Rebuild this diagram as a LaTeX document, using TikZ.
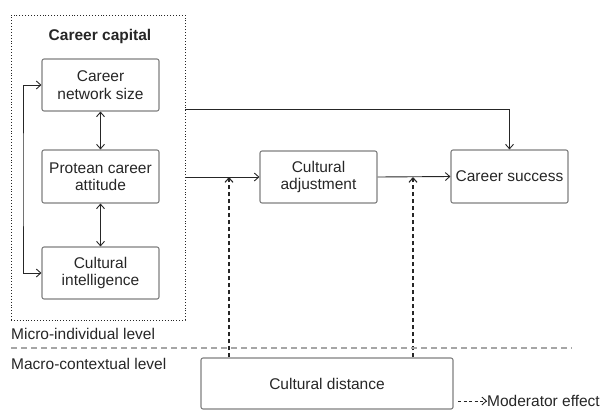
\documentclass[tikz,border=0pt]{standalone}
\usepackage{fontspec}
\setmainfont{Liberation Sans}
\usetikzlibrary{arrows.meta}
\begin{document}
\begin{tikzpicture}[x=1pt,y=-1pt,
  every node/.style={font=\fontsize{15.5}{17.5}\selectfont, text=black!85},
  box/.style={draw=black!50, line width=1.1pt, rounded corners=2pt, minimum width=117pt, minimum height=52pt, align=center, inner sep=1pt},
  conn/.style={draw=black!85, line width=0.9pt, -{Straight Barb[length=4.5pt,width=8pt]}},
  dconn/.style={conn, dashed, dash pattern=on 4pt off 3pt, line width=1.1pt},
  biconn/.style={draw=black!85, line width=0.9pt, {Straight Barb[length=4.5pt,width=8pt]}-{Straight Barb[length=4.5pt,width=8pt]}}
]
\useasboundingbox (0,0) rectangle (604,410);
\node[draw=black!85, dotted, line width=0.9pt, minimum width=174pt, minimum height=305pt, inner sep=0pt] (cap) at (98,167.5) {};
\node[font=\fontsize{15.5}{17.5}\selectfont\bfseries] (title) at (100,36) {Career capital};
\node[box] (net) at (100.5,85) {Career\\network size};
\node[box, minimum height=53pt] (pro) at (100.5,176.5) {Protean career\\attitude};
\node[box] (ci) at (100.5,273) {Cultural\\intelligence};
\node[box] (adj) at (318.5,177) {Cultural\\adjustment};
\node[box, minimum height=53pt] (suc) at (509.5,176.5) {Career success};
\node[box, minimum width=252pt, minimum height=51pt] (dist) at (327,383.5) {Cultural distance};

\coordinate (loop) at (23,180);
\coordinate (top) at (185,109);
\coordinate (m1) at (229,177);
\coordinate (m2) at (413,177);

\draw[biconn] (net.south) -- (pro.north);
\draw[biconn] (pro.south) -- (ci.north);
\draw[biconn] (net.west) -| (loop) |- (ci.west);
\draw[conn] (top) -| (suc.north);
\draw[conn] (cap.east |- adj.west) -- (adj.west);
\draw[conn] (adj.east) -- (suc.west);
\draw[dconn] (dist.north -| m1) -- (m1);
\draw[dconn] (dist.north -| m2) -- (m2);

\coordinate (d1) at (11,348);
\coordinate (d2) at (572,348);
\draw[black!35, line width=1.2pt, dash pattern=on 6pt off 4pt] (d1) -- (d2);

\node[anchor=west, inner sep=0pt] (micro) at (11,334) {Micro-individual level};
\node[anchor=west, inner sep=0pt] (macro) at (11,364) {Macro-contextual level};

\coordinate (l1) at (458,401);
\node[anchor=west, inner sep=0pt] (leg) at (487,401) {Moderator effect};
\draw[conn, dashed, dash pattern=on 3pt off 2.5pt] (l1) -- (leg.west);
\end{tikzpicture}
\end{document}
